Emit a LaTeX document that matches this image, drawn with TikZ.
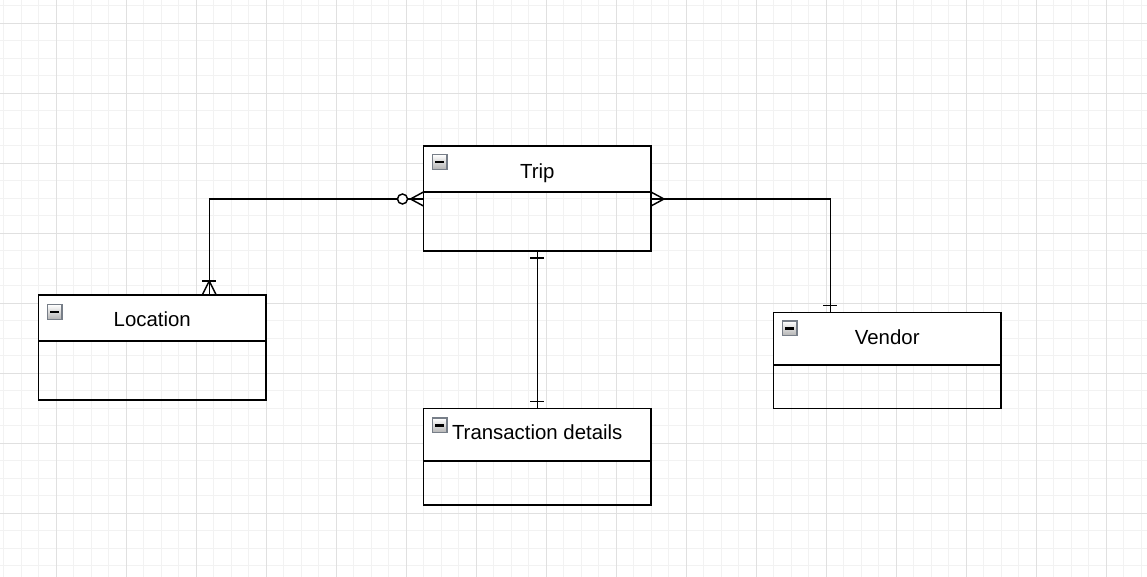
\documentclass[tikz,border=0pt]{standalone}
\usepackage{fontspec}
\setmainfont{Liberation Sans}
\usetikzlibrary{positioning,calc}

\definecolor{minorgrid}{HTML}{F2F2F2}
\definecolor{majorgrid}{HTML}{E0E0E0}
\definecolor{iconedge}{HTML}{777E88}

\tikzset{
  entity/.style={draw, line width=1.1pt, fill=white, minimum width=170.6pt,
    inner sep=0pt, outer sep=0pt, anchor=north west},
  entbody/.style={draw, line width=1.1pt, minimum width=170.6pt,
    inner sep=0pt, outer sep=0pt},
  entlabel/.style={anchor=base, inner sep=0pt, font=\fontsize{15.3}{18}\selectfont},
  minus/.style={draw=iconedge, line width=1pt, top color=white, bottom color=black!30,
    minimum size=11pt, inner sep=0pt, anchor=north west,
    path picture={\draw[black, line width=1.9pt] ([xshift=2.3pt]path picture bounding box.west)
      -- ([xshift=-2.3pt]path picture bounding box.east);}},
  conn/.style={line width=1.1pt},
}

\begin{document}
\begin{tikzpicture}[x=0.75pt,y=-0.75pt]
    \useasboundingbox (0,0) rectangle (1147,577);
    \fill[white] (0,0) rectangle (1147,577);
    % grid
    \foreach \i in {0,...,65}
      \draw[minorgrid, line width=0.6pt] (3.5+17.5*\i,0) -- (3.5+17.5*\i,577);
    \foreach \i in {0,...,32}
      \draw[minorgrid, line width=0.6pt] (0,5.5+17.5*\i) -- (1147,5.5+17.5*\i);
    \foreach \i in {0,...,15}
      \draw[majorgrid, line width=0.6pt] (56+70*\i,0) -- (56+70*\i,577);
    \foreach \i in {0,...,7}
      \draw[majorgrid, line width=0.6pt] (0,23+70*\i) -- (1147,23+70*\i);

    % entities
    \node[entity, minimum height=34.5pt] (trip) at (423.5,146) {};
    \node[entbody, minimum height=44.25pt, below=0pt of trip] (tripbody) {};
    \node[entity, minimum height=34.5pt] (location) at (38.5,295) {};
    \node[entbody, minimum height=44.3pt, below=0pt of location] (locationbody) {};
    \node[entity, minimum height=39.4pt] (vendor) at (773.5,312.5) {};
    \node[entbody, minimum height=32.6pt, below=0pt of vendor] (vendorbody) {};
    \node[entity, minimum height=39.4pt] (transaction) at (423.5,408.5) {};
    \node[entbody, minimum height=33pt, below=0pt of transaction] (transactionbody) {};

    \node[entlabel] (triplabel) at ($(trip.north)+(0,32.5)$) {Trip};
    \node[entlabel] (locationlabel) at ($(location.north)+(0,31.5)$) {Location};
    \node[entlabel] (vendorlabel) at ($(vendor.north)+(0,32)$) {Vendor};
    \node[entlabel] (transactionlabel) at ($(transaction.north)+(0,31.5)$) {Transaction details};

    \node[minus] (tripmin) at ($(trip.north west)+(8,8)$) {};
    \node[minus] (locationmin) at ($(location.north west)+(8,9)$) {};
    \node[minus] (vendormin) at ($(vendor.north west)+(8,8)$) {};
    \node[minus] (transactionmin) at ($(transaction.north west)+(8,9)$) {};

    % connectors
    \coordinate (tl) at ($(tripbody.north west)+(0,7)$);
    \coordinate (lt) at ($(location.north)+(57,0)$);
    \coordinate (tr) at ($(tripbody.north east)+(0,7)$);
    \coordinate (vt) at ($(vendor.north)+(-57,0)$);

    \draw[conn] (tl) -- ($(tl)+(-26,0)$) -| (lt);
    \draw[conn] (tr) -| (vt);
    \draw[conn] (tripbody.south) -- (transaction.north);

    % trip side: zero or many
    \draw[conn] ($(tl)+(-13,0)$) -- ($(tl)+(0,-7)$) ($(tl)+(-13,0)$) -- ($(tl)+(0,7)$);
    \draw[conn, fill=white] ($(tl)+(-21,0)$) circle (5);
    % location side: one or many
    \draw[conn] ($(lt)+(0,-14)$) -- ($(lt)+(-7,0)$) ($(lt)+(0,-14)$) -- ($(lt)+(7,0)$);
    \draw[conn] ($(lt)+(-7,-14)$) -- ($(lt)+(7,-14)$);
    % trip side: many
    \draw[conn] ($(tr)+(13,0)$) -- ($(tr)+(0,-7)$) ($(tr)+(13,0)$) -- ($(tr)+(0,7)$);
    % vendor side: one
    \draw[conn] ($(vt)+(-7,-7)$) -- ($(vt)+(7,-7)$);
    % trip and transaction: one
    \draw[conn] ($(tripbody.south)+(-7,7)$) -- ($(tripbody.south)+(7,7)$);
    \draw[conn] ($(transaction.north)+(-7,-7)$) -- ($(transaction.north)+(7,-7)$);
\end{tikzpicture}
\end{document}
